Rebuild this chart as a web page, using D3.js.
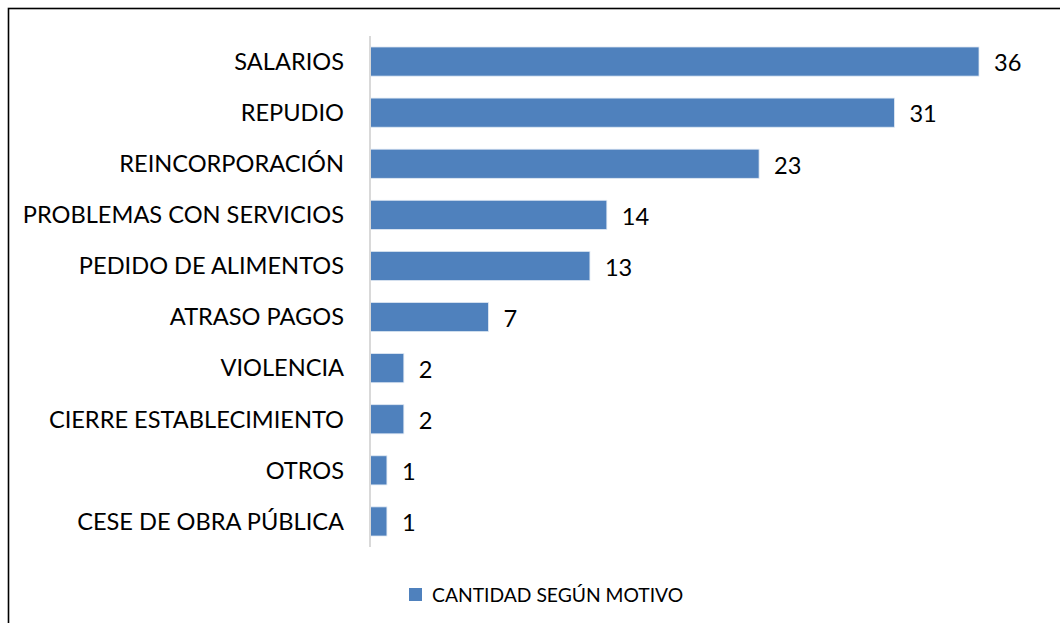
<!DOCTYPE html>
<html>
<head>
	<meta charset="utf-8">
	<script src="https://d3js.org/d3.v7.min.js"></script>
	<style>
		body { margin: 0; background: #fff; }
		text { font-family: Lato, "Open Sans", sans-serif; fill: #000; }
	</style>
</head>
<body>
	<script type="text/javascript">

		var categories = ["SALARIOS", "REPUDIO", "REINCORPORACIÓN", "PROBLEMAS CON SERVICIOS",
			"PEDIDO DE ALIMENTOS", "ATRASO PAGOS", "VIOLENCIA", "CIERRE ESTABLECIMIENTO",
			"OTROS", "CESE DE OBRA PÚBLICA"]
		var values = [36, 31, 23, 14, 13, 7, 2, 2, 1, 1]
		var seriesName = "CANTIDAD SEGÚN MOTIVO"

		var svg = d3.select("body").append("svg")
			.attr("width", 1060)
			.attr("height", 623)

		// chart frame (right and bottom edges fall outside the picture)
		svg.append("rect")
			.attr("x", 8.5).attr("y", 8.5)
			.attr("width", 1070).attr("height", 640)
			.attr("fill", "none")
			.attr("stroke", "#000")
			.attr("stroke-width", 1.6)

		var x = d3.scaleLinear()
			.domain([0, 36])
			.range([370, 979])

		var y = d3.scaleBand()
			.domain(categories)
			.range([36, 547])
			.paddingInner(0.43)
			.paddingOuter(0.215)

		// bars
		svg.selectAll(".bar")
			.data(values)
			.enter().append("rect")
			.attr("class", "bar")
			.attr("x", x(0))
			.attr("y", function (d, i) { return y(categories[i]) })
			.attr("width", function (d) { return x(d) - x(0) })
			.attr("height", y.bandwidth())
			.attr("fill", "#4F81BD")
			.attr("stroke", "#dfe8f3")
			.attr("stroke-width", 0.8)

		// vertical category axis line
		svg.append("line")
			.attr("x1", 370).attr("x2", 370)
			.attr("y1", 36).attr("y2", 547)
			.attr("stroke", "#d9d9d9")
			.attr("stroke-width", 2)

		// category labels
		svg.selectAll(".cat")
			.data(categories)
			.enter().append("text")
			.attr("class", "cat")
			.attr("x", 344)
			.attr("y", function (d) { return y(d) + y.bandwidth() / 2 })
			.attr("dy", "0.35em")
			.attr("text-anchor", "end")
			.style("font-size", "23.6px")
			.text(function (d) { return d })

		// value labels
		svg.selectAll(".val")
			.data(values)
			.enter().append("text")
			.attr("class", "val")
			.attr("x", function (d) { return x(d) + 15 })
			.attr("y", function (d, i) { return y(categories[i]) + y.bandwidth() / 2 + 1.5 })
			.attr("dy", "0.35em")
			.style("font-size", "23.6px")
			.text(function (d) { return d })

		// legend
		var legend = svg.append("g")
		legend.append("rect")
			.attr("x", 409).attr("y", 588)
			.attr("width", 13).attr("height", 13)
			.attr("fill", "#4F81BD")
		legend.append("text")
			.attr("x", 432).attr("y", 595)
			.attr("dy", "0.35em")
			.style("font-size", "19.3px")
			.text(seriesName)

	</script>
</body>
</html>
